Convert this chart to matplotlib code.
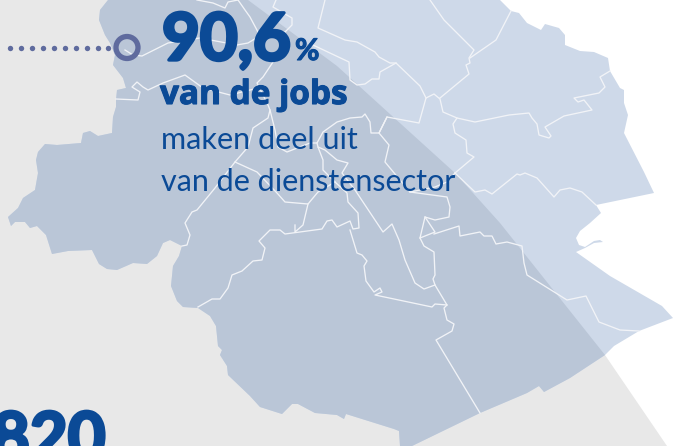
# -*- coding:utf-8 -*-
import numpy as np
import matplotlib
import matplotlib.pyplot as plt
from matplotlib.patches import Polygon, Circle
import matplotlib.patheffects as pe

matplotlib.use('Agg')

# map outline
outline = [(108, 0), (100, 10), (99, 20), (105, 35), (110, 43), (115, 55), (113, 65), (123, 78), (126, 88),
           (117, 90), (116, 100), (116, 107), (113, 117), (112, 133), (98, 136), (90, 131), (83, 133), (81, 143),
           (57, 145), (45, 144), (38, 152), (36, 160), (38, 173), (35, 190), (23, 198), (18, 208), (8, 217),
           (11, 226), (15, 222), (25, 222), (30, 228), (37, 226), (46, 235), (52, 254), (68, 251), (92, 250),
           (99, 264), (107, 269), (117, 270), (133, 263), (147, 264), (157, 256), (163, 243), (170, 240),
           (182, 246), (179, 256), (173, 266), (171, 286), (177, 301), (183, 307), (198, 308), (210, 316),
           (216, 326), (218, 346), (222, 350), (220, 355), (227, 366), (228, 375), (250, 396), (260, 407),
           (282, 414), (292, 404), (298, 404), (315, 413), (337, 415), (344, 419), (346, 414), (394, 429),
           (399, 431), (400, 446), (412, 446), (480, 413), (527, 393), (539, 386), (544, 392), (557, 385),
           (570, 378), (605, 355), (614, 346), (639, 331), (673, 318), (662, 306), (610, 276), (576, 252),
           (585, 248), (594, 243), (603, 242), (600, 240), (594, 241), (585, 247), (579, 245), (576, 238),
           (580, 231), (590, 223), (601, 213), (596, 205), (654, 193), (644, 172), (624, 133), (628, 115),
           (624, 103), (624, 90), (620, 88), (610, 71), (608, 58), (594, 52), (580, 51), (565, 45), (565, 35),
           (559, 28), (545, 24), (541, 30), (527, 23), (519, 13), (511, 11), (500, 0)]

# grey backdrop, its right edge is a big arc
backdrop = [(0, 0), (248, 0), (337, 66), (455, 173), (500, 223), (605, 355), (667, 446), (0, 446)]

# municipality borders
borders = [
    [(125, 50), (133, 55), (142, 56), (168, 43), (200, 38), (237, 45), (248, 43), (258, 37), (285, 32), (292, 25),
     (292, 18), (273, 7), (276, 0)],
    [(238, 0), (245, 10), (250, 17), (258, 32), (258, 37)],
    [(197, 0), (213, 3), (225, 8), (228, 2), (238, 0)],
    [(285, 32), (280, 50), (273, 62), (263, 77), (257, 83), (268, 105), (270, 110), (275, 130), (278, 147),
     (287, 152), (310, 143), (317, 143), (323, 132), (337, 122), (350, 118), (362, 117), (365, 114), (370, 122),
     (371, 133), (379, 133), (387, 117), (419, 123), (426, 98), (434, 94), (440, 99), (443, 112), (450, 115),
     (457, 118), (453, 124), (455, 133), (466, 140), (467, 153), (474, 157), (455, 173)],
    [(270, 110), (268, 118), (253, 128), (248, 147), (235, 162), (257, 172), (277, 193), (285, 202), (308, 204),
     (318, 192), (335, 182)],
    [(235, 162), (215, 188), (197, 210), (192, 212), (185, 223), (190, 235), (187, 245), (182, 246)],
    [(308, 204), (303, 225), (295, 232), (295, 225)],
    [(198, 307), (212, 299), (220, 299), (228, 288), (232, 275), (242, 271), (253, 261), (262, 260), (265, 248),
     (259, 241), (270, 230), (280, 230), (285, 234), (322, 229), (327, 221), (332, 220), (337, 227), (350, 221),
     (353, 229), (359, 228), (358, 213), (348, 202), (347, 193), (335, 182), (323, 170), (323, 160), (318, 147),
     (317, 143)],
    [(116, 99), (138, 100), (140, 92), (132, 87), (137, 82), (143, 87), (148, 90), (163, 83), (185, 75), (203, 88),
     (230, 95), (262, 87)],
    [(430, 0), (444, 20), (457, 33), (474, 50), (469, 58), (470, 63), (466, 65), (469, 74), (440, 98)],
    [(470, 58), (496, 40), (511, 11)],
    [(426, 98), (420, 86), (396, 63), (380, 72), (379, 79), (372, 79), (365, 84), (357, 85), (350, 80), (349, 62),
     (313, 45)],
    [(396, 63), (390, 63), (379, 57), (375, 52), (357, 42), (345, 40), (318, 28), (322, 12), (325, 0)],
    [(457, 118), (475, 122), (509, 115), (529, 113), (532, 118), (537, 124), (539, 135), (549, 138), (551, 136),
     (545, 127), (564, 116), (592, 110), (584, 100), (578, 102), (574, 98), (599, 93), (605, 87), (600, 77),
     (610, 71)],
    [(455, 173), (475, 192), (485, 190), (492, 194), (517, 174), (520, 175), (525, 173), (537, 178), (554, 197),
     (560, 190), (570, 188), (582, 192), (596, 205)],
    [(455, 173), (447, 182), (435, 187), (410, 192)],
    [(387, 117), (379, 133), (389, 145), (385, 162), (410, 192), (447, 197), (450, 207), (449, 217), (435, 220),
     (425, 217), (420, 238), (424, 246), (434, 252), (435, 275), (433, 279), (435, 285), (447, 305), (444, 308),
     (447, 320), (454, 324), (452, 331), (436, 340), (480, 413)],
    [(425, 217), (435, 232), (420, 238)],
    [(434, 234), (459, 226), (460, 236), (480, 232), (484, 236), (492, 236), (496, 244), (507, 242), (522, 246),
     (524, 263), (527, 275), (567, 300), (586, 296), (599, 322), (620, 330), (639, 331)],
    [(435, 285), (424, 289), (415, 283), (405, 260), (399, 240), (392, 224), (383, 232), (355, 190), (342, 173),
     (348, 163), (337, 160), (325, 150), (318, 147)],
    [(447, 305), (435, 304), (432, 307), (375, 295), (382, 292), (380, 288), (374, 292), (366, 281), (364, 266),
     (367, 261), (362, 255), (357, 253), (350, 230)],
]

# leader dots
dot_x = [10, 21, 32, 43, 54, 65, 76, 87, 98, 108]
dot_y = [47.5] * len(dot_x)

big_color = '#0B4A96'
ring_color = '#5F6B9E'

fig = plt.figure(figsize=(6.74, 4.46), dpi=100)
ax = fig.add_axes([0, 0, 1, 1])
ax.set_xlim(0, 674)
ax.set_ylim(446, 0)
ax.axis('off')

ax.add_patch(Polygon(backdrop, closed=True, fc='#E8E8E8', ec='none', zorder=1))
ax.add_patch(Polygon(outline, closed=True, fc='#CED9E9', ec='none', zorder=2))
clip = Polygon(backdrop, closed=True, transform=ax.transData)
dark = Polygon(outline, closed=True, fc='#BAC6D7', ec='none', zorder=3)
ax.add_patch(dark)
dark.set_clip_path(clip)

for line in borders:
    xs, ys = zip(*line)
    ax.plot(xs, ys, color='#F1F3F7', lw=0.95, solid_joinstyle='round', zorder=4)

# dotted leader and ring
ax.scatter(dot_x, dot_y, s=15, color=ring_color, linewidths=0, zorder=5)
ax.add_patch(Circle((127, 47.5), 11, fc='none', ec=ring_color, lw=3.8, zorder=5))

round_fx = [pe.withStroke(linewidth=2.4, foreground=big_color, capstyle='round', joinstyle='round')]
small_fx = [pe.withStroke(linewidth=0.8, foreground=big_color, capstyle='round', joinstyle='round')]
ax.text(162, 60, '90,6', color=big_color, fontsize=47, fontweight='bold', family='Lato', zorder=6,
        path_effects=round_fx)
ax.text(295, 60, '%', color=big_color, fontsize=21.5, fontweight='bold', family='Lato', zorder=6,
        path_effects=small_fx)
ax.text(160, 104, 'van de jobs', color=big_color, fontsize=24, fontweight='bold', family='Open Sans', zorder=6,
        path_effects=small_fx)
ax.text(161, 149, 'maken deel uit', color=big_color, fontsize=22.1, family='Lato', zorder=6)
ax.text(161, 191, 'van de dienstensector', color=big_color, fontsize=22, family='Lato', zorder=6)
ax.text(-8, 459, '820', color=big_color, fontsize=47, fontweight='bold', family='Lato', zorder=6,
        path_effects=round_fx)

plt.savefig('out.png', dpi=100)
plt.close()
